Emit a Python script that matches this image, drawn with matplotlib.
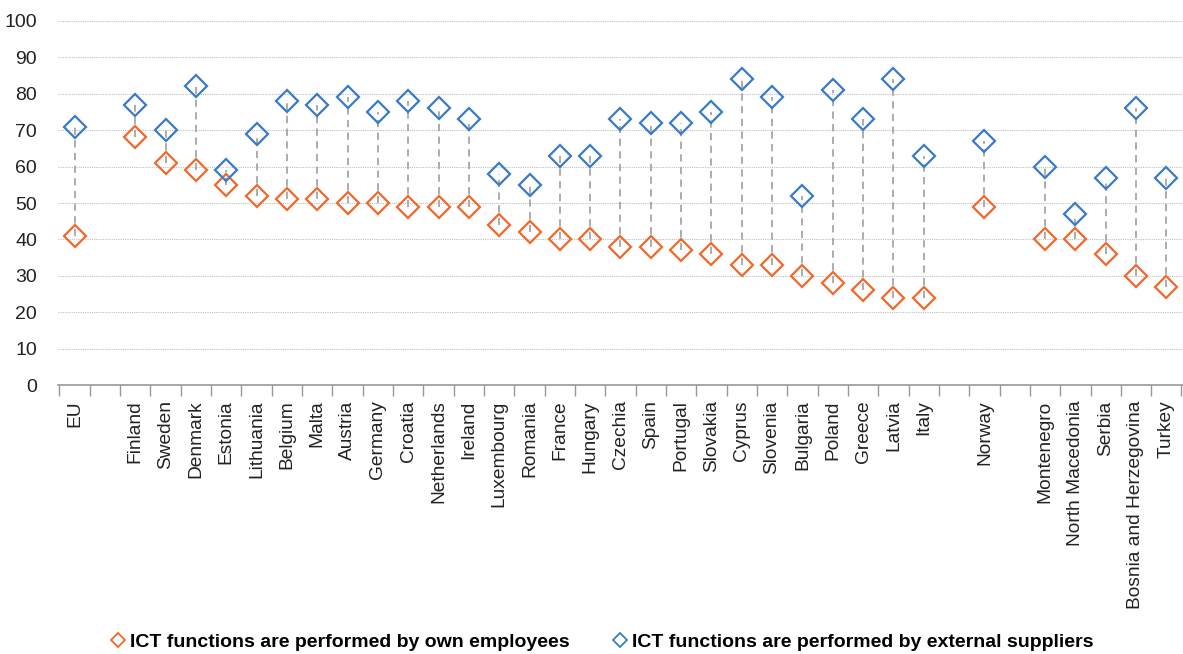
import numpy as np
import matplotlib.pyplot as plt
from matplotlib.lines import Line2D

plt.rcParams["font.family"] = ["Liberation Sans", "DejaVu Sans"]

# countries, with None for the empty slots between groups
countries = ["EU", None, "Finland", "Sweden", "Denmark", "Estonia", "Lithuania", "Belgium",
             "Malta", "Austria", "Germany", "Croatia", "Netherlands", "Ireland", "Luxembourg",
             "Romania", "France", "Hungary", "Czechia", "Spain", "Portugal", "Slovakia",
             "Cyprus", "Slovenia", "Bulgaria", "Poland", "Greece", "Latvia", "Italy", None,
             "Norway", None, "Montenegro", "North Macedonia", "Serbia",
             "Bosnia and Herzegovina", "Turkey"]

own = [41, None, 68, 61, 59, 55, 52, 51, 51, 50, 50, 49, 49, 49, 44, 42, 40, 40, 38, 38, 37,
       36, 33, 33, 30, 28, 26, 24, 24, None, 49, None, 40, 40, 36, 30, 27]
external = [71, None, 77, 70, 82, 59, 69, 78, 77, 79, 75, 78, 76, 73, 58, 55, 63, 63, 73, 72,
            72, 75, 84, 79, 52, 81, 73, 84, 63, None, 67, None, 60, 47, 57, 76, 57]

c_own = "#F0682A"
c_ext = "#3A7BC6"

fig = plt.figure(figsize=(11.83, 6.54), dpi=100)
ax = fig.add_axes([0.049, 0.411, 0.951, 0.557])

x = np.arange(len(countries))
idx = [i for i, c in enumerate(countries) if c is not None]
xs = x[idx]
o = np.array([own[i] for i in idx], dtype=float)
e = np.array([external[i] for i in idx], dtype=float)

for xi, a, b in zip(xs, o, e):
    ax.plot([xi, xi], [a, b], color="#A6A6A6", lw=1.3, ls=(0, (4, 3)), zorder=2)

ax.plot(xs, o, ls="none", marker="D", ms=11, mfc="none", mec=c_own, mew=1.6, zorder=3)
ax.plot(xs, e, ls="none", marker="D", ms=11, mfc="none", mec=c_ext, mew=1.6, zorder=3)

ax.set_xlim(-0.55, len(countries) - 0.45)
ax.set_ylim(0, 100)
ax.set_yticks(range(0, 101, 10))
ax.tick_params(axis="y", length=0, labelsize=14, pad=15, labelcolor="#222222")
ax.grid(axis="y", color="#BFBFBF", ls=(0, (1, 1)), lw=0.8)
ax.set_axisbelow(True)

ax.set_xticks(xs)
ax.set_xticklabels([countries[i] for i in idx], rotation=90, fontsize=13.8, color="#222222")
ax.set_xticks(np.arange(-0.5, len(countries) + 0.5, 1), minor=True)
ax.tick_params(axis="x", which="major", length=0, pad=11)
ax.tick_params(axis="x", which="minor", length=8, color="#999999", width=1)

for s in ["top", "right", "left"]:
    ax.spines[s].set_visible(False)
ax.spines["bottom"].set_color("#999999")
ax.spines["bottom"].set_linewidth(1.2)

handles = [
    Line2D([], [], ls="none", marker="D", ms=7, mfc="none", mec=c_own, mew=1.3),
    Line2D([], [], ls="none", marker="D", ms=7, mfc="none", mec=c_ext, mew=1.3),
]
labels = ["ICT functions are performed by own employees",
          "ICT functions are performed by external suppliers"]
fig.legend(handles, labels, loc="center", bbox_to_anchor=(0.508, 0.018), ncol=2, frameon=False,
           handletextpad=0.1, columnspacing=2.1, handlelength=1.0,
           prop={"weight": "bold", "size": 14})

fig.savefig("out.png", dpi=100)
